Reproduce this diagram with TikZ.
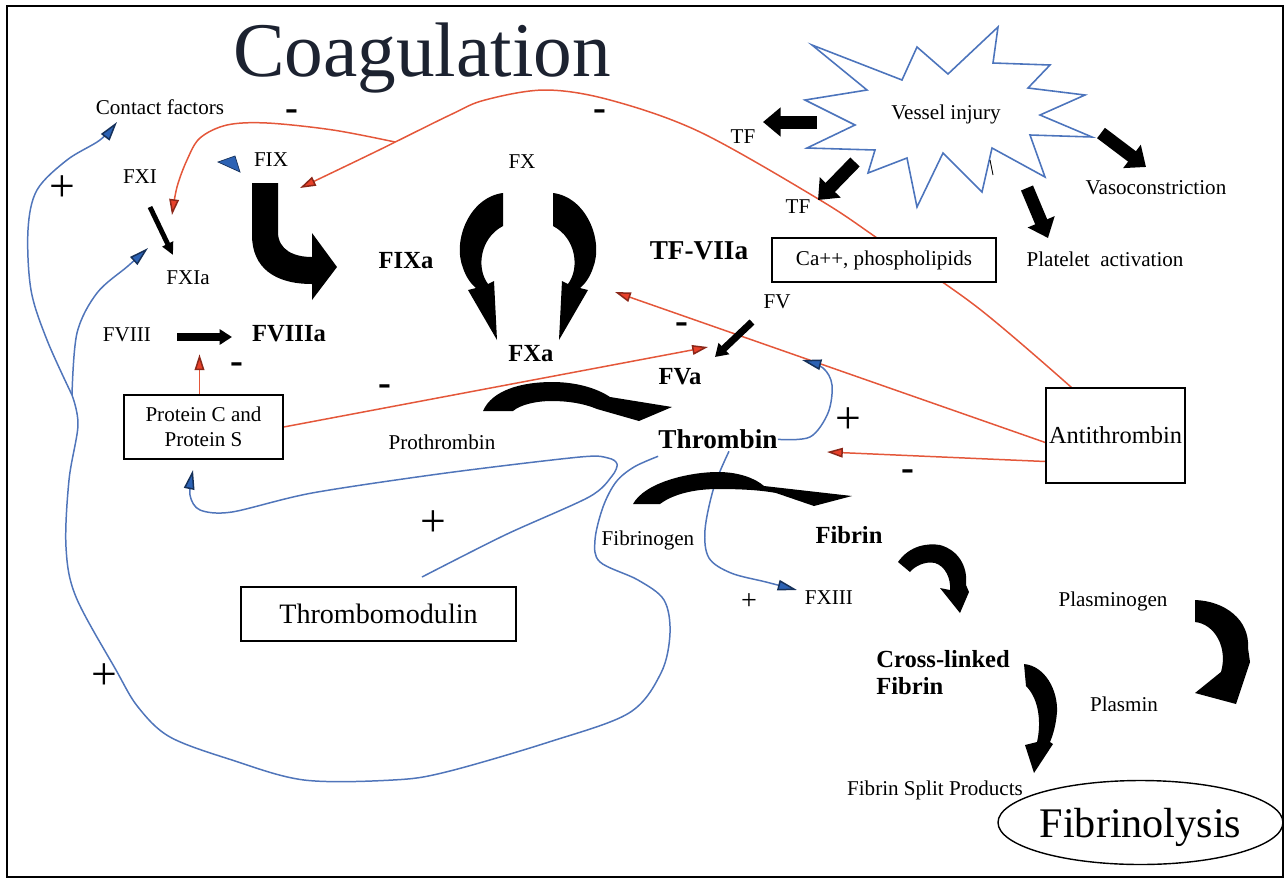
\documentclass[tikz,border=0pt]{standalone}
\usepackage{fontspec}
\setmainfont{Liberation Serif}
\usepackage{tikz}
\usetikzlibrary{arrows.meta, shapes.geometric, calc, backgrounds}
\definecolor{TitleInk}{HTML}{1C2230}
\definecolor{LineBlue}{HTML}{5075BA}
\definecolor{HeadBlue}{HTML}{2C62B4}
\definecolor{StarBlue}{HTML}{4C74BC}
\definecolor{LineRed}{HTML}{E4573A}
\definecolor{HeadRed}{HTML}{E8412A}
\tikzset{
  lbl/.style={font=\fontsize{12}{14}\selectfont, anchor=mid, inner sep=0pt, yshift=-1.5pt},
  boldlbl/.style={font=\fontsize{14}{16}\selectfont\bfseries, anchor=mid, inner sep=0pt, yshift=-1.5pt},
  keylbl/.style={font=\fontsize{15.5}{18}\selectfont\bfseries, anchor=mid, inner sep=0pt, yshift=-1.5pt},
  minuslbl/.style={font=\fontsize{22}{22}\selectfont\bfseries, anchor=mid, inner sep=0pt, yshift=-3.5pt},
  pluslbl/.style={font=\fontsize{26}{26}\selectfont, anchor=mid, inner sep=0pt, yshift=-4.3pt},
  plainbox/.style={rectangle, draw=black, line width=0.8pt, fill=white, inner sep=0pt, align=center, font=\fontsize{12}{14.2}\selectfont},
  fatshape/.style={fill=black},
  fatarrow/.style={line width=7.4pt, -{Triangle[length=10pt, width=16pt]}},
  midarrow/.style={line width=4pt, -{Triangle[length=7pt, width=8.5pt]}},
  slimarrow/.style={line width=2.8pt, -{Triangle[length=7pt, width=6.5pt]}},
  redline/.style={draw=LineRed, line width=0.85pt, -{Triangle[length=9pt, width=5.5pt, fill=HeadRed, color=HeadRed!60!black]}},
  blueline/.style={draw=LineBlue, line width=0.85pt},
  bluearrow/.style={blueline, -{Triangle[length=11pt, width=6pt, fill=HeadBlue, color=HeadBlue!50!black]}}
}
\begin{document}
\begin{tikzpicture}[x=0.02cm, y=-0.02cm]
  \useasboundingbox (0,0) rectangle (1286,880);
  \draw[line width=1pt] (7,6) rectangle (1283,877);

  % Title
  \node[font=\fontsize{44}{48}\selectfont, text=TitleInk, anchor=base, inner sep=0pt] (title) at (422,76) {Coagulation};

  % Factors
  \node[lbl] (contact) at (160,108) {Contact factors};
  \node[lbl] (fxi) at (140,177) {FXI};
  \node[lbl] (fix) at (271,160) {FIX};
  \node[lbl] (fxia) at (188,278) {FXIa};
  \node[boldlbl] (fixa) at (406,262) {FIXa};
  \node[lbl] (fx) at (522,162) {FX};
  \node[boldlbl] (fxa) at (531,355) {FXa};
  \node[keylbl] (tfviia) at (699,253) {TF-VIIa};
  \node[lbl] (fviii) at (127,335) {FVIII};
  \node[boldlbl] (fviiia) at (289,335) {FVIIIa};
  \node[lbl] (fv) at (777,302) {FV};
  \node[boldlbl] (fva) at (680,378) {FVa};
  \node[lbl] (prothrombin) at (442,443) {Prothrombin};
  \node[keylbl] (thrombin) at (718,442) {Thrombin};
  \node[lbl] (fibrinogen) at (648,539) {Fibrinogen};
  \node[boldlbl] (fibrin) at (849,537) {Fibrin};
  \node[lbl] (fxiii) at (829,598) {FXIII};
  \node[boldlbl, align=left, anchor=north west, yshift=0pt, font=\fontsize{14}{15.4}\selectfont\bfseries] (crosslinked) at (876,647) {Cross-linked\\Fibrin};
  \node[lbl] (plasminogen) at (1113,600) {Plasminogen};
  \node[lbl] (plasmin) at (1124,705) {Plasmin};
  \node[lbl] (fsp) at (935,789) {Fibrin Split Products};
  \node[ellipse, draw, line width=0.8pt, minimum width=5.08cm, minimum height=1.68cm, inner sep=0pt, text depth=0pt, font=\fontsize{24}{26}\selectfont] (fibrinolysis) at (1140.5,822.5) {Fibrinolysis};

  % Vessel injury
  \draw[StarBlue, line width=0.9pt, line join=miter] (812,45) -- (902,80) -- (917,47) -- (948,74) -- (998,27) -- (993,63) -- (1050,65) -- (1028,88) -- (1085,95) -- (1040,115) -- (1092,137) -- (1030,135) -- (1045,177) -- (992,148) -- (982,192) -- (943,153) -- (917,207) -- (907,158) -- (868,173) -- (875,150) -- (807,148) -- (855,125) -- (805,100) -- (867,90) -- cycle;
  \draw[line width=0.5pt] (990,160) -- (993,175);
  \node[lbl] (vessel) at (946,113) {Vessel injury};
  \node[lbl] (tfleft) at (743,137) {TF};
  \node[lbl] (tflow) at (798,207) {TF};
  \node[lbl] (vaso) at (1156,188) {Vasoconstriction};
  \node[lbl] (platelet) at (1105,260) {Platelet\ \ activation};

  % Boxes
  \node[plainbox, minimum width=3.18cm, minimum height=1.28cm] (proteinc) at (203.5,427) {Protein C and\\Protein S};
  \node[plainbox, minimum width=4.48cm, minimum height=0.88cm] (capl) at (884,260) {Ca++, phospholipids};
  \node[plainbox, minimum width=5.5cm, minimum height=1.08cm, font=\fontsize{16}{18}\selectfont] (thrombomodulin) at (378.5,614) {Thrombomodulin};
  \node[plainbox, minimum width=2.78cm, minimum height=1.9cm, font=\fontsize{13.9}{16}\selectfont] (antithrombin) at (1115.5,435.5) {Antithrombin};

  % Signs
  \node[minuslbl] at (292,110) {-};
  \node[minuslbl] at (600,110) {-};
  \node[minuslbl] at (237,363) {-};
  \node[minuslbl] at (385,385) {-};
  \node[minuslbl] at (682,323) {-};
  \node[minuslbl] at (908,470) {-};
  \node[pluslbl] at (62,190) {+};
  \node[pluslbl] at (104,678) {+};
  \node[pluslbl] at (433,525) {+};
  \node[pluslbl] at (848,422) {+};
  \node[lbl, font=\fontsize{16}{16}\selectfont, yshift=-1.5pt] at (749,600) {+};

  % Hit points
  \coordinate (split) at (72,395);
  \coordinate (contacthit) at (117,122);
  \coordinate (fxiahit) at (148,248);
  \coordinate (fvahit) at (802,360);
  \coordinate (fxiiihit) at (797,590);
  \coordinate (pchit) at (193,470);
  \coordinate (tmout) at (422,577);
  \coordinate (fixhit) at (300,188);
  \coordinate (fork) at (395,142);
  \coordinate (fxihit) at (172,215);
  \coordinate (fxahit) at (615,292);
  \coordinate (thrombinhit) at (827,452);
  \coordinate (fvhit) at (708,347);

  % Big arrows
  \fill[fatshape] (252,183) -- (252,235) .. controls (252,268) and (275,284) .. (312,284) -- (312,300) -- (337,267) -- (312,233) -- (312,257) .. controls (294,257) and (278,250) .. (278,232) -- (278,183) -- cycle;
  \fill[fatshape] (503,193) .. controls (470,197) and (452,240) .. (463,268) .. controls (466,277) and (471,284) .. (476,288) -- (468,290) -- (497,340) -- (494,281) -- (488,284) .. controls (476,268) and (480,238) .. (503,226) -- cycle;
  \fill[fatshape] (553,193) .. controls (586,197) and (604,240) .. (593,268) .. controls (590,277) and (585,284) .. (580,288) -- (588,290) -- (559,340) -- (562,281) -- (568,284) .. controls (580,268) and (576,238) .. (553,226) -- cycle;
  \fill[fatshape] (483,411) .. controls (492,390) and (522,382) .. (552,382) .. controls (578,382) and (598,389) .. (610,397) -- (672,407) -- (639,421) -- (597,409) .. controls (583,403) and (566,401) .. (552,401) .. controls (535,401) and (520,405) .. (513,411) -- cycle;
  \fill[fatshape] (633,504) .. controls (645,482) and (690,472) .. (718,472) .. controls (740,472) and (756,479) .. (764,486) -- (852,496) -- (814,506) -- (776,493) .. controls (760,490) and (740,489) .. (718,489) .. controls (692,489) and (672,495) .. (660,504) -- cycle;
  \fill[fatshape] (898,562) .. controls (910,545) and (928,543) .. (940,545) .. controls (958,550) and (968,566) .. (966,585) -- (969,592) -- (960,613) -- (940,588) -- (950,590) .. controls (951,578) and (945,566) .. (935,563) .. controls (925,561) and (915,566) .. (910,572) -- cycle;
  \fill[fatshape] (1024,664) .. controls (1045,666) and (1058,690) .. (1057,712) .. controls (1056,725) and (1053,735) .. (1050,742) -- (1053,744) -- (1034,773) -- (1025,745) -- (1037,742) .. controls (1041,725) and (1040,700) .. (1026,686) -- cycle;
  \fill[fatshape] (1195,600) .. controls (1225,601) and (1250,620) .. (1248,648) -- (1250,662) -- (1236,704) -- (1195,693) -- (1221,672) .. controls (1228,648) and (1215,624) .. (1195,622) -- cycle;

  % Small black arrows
  \coordinate (fxiout) at (150,207);
  \coordinate (fxiain) at (173,255);
  \coordinate (fviiiout) at (177,337);
  \coordinate (fviiiain) at (232,337);
  \coordinate (fvout) at (752,322);
  \coordinate (fvain) at (715,357);
  \draw[slimarrow] (fxiout) -- (fxiain);
  \draw[midarrow] (fviiiout) -- (fviiiain);
  \draw[midarrow] (fvout) -- (fvain);
  \draw[fatarrow] (817,122) coordinate (vtf1) -- (763,122) coordinate (tf1in);
  \draw[fatarrow] (855,162) coordinate (vtf2) -- (818,200) coordinate (tf2in);
  \draw[fatarrow] (1101,133) coordinate (vvaso) -- (1146,167) coordinate (vasoin);
  \draw[fatarrow] (1027,188) coordinate (vplat) -- (1048,238) coordinate (platin);

  \begin{scope}[on background layer]
    % Inhibition (red)
    \draw[redline] plot[smooth, tension=0.55] coordinates {($(antithrombin.north west)+(26,0)$) (977,307) (880,240) (820,200) (700,132) (610,100) (545,90) (485,100) (450,115) (375,152) (fixhit)};
    \draw[redline] plot[smooth, tension=0.55] coordinates {(fork) (333,130) (267,123) (227,125) (200,138) (187,160) (177,187) (fxihit)};
    \draw[redline] ($(antithrombin.west)+(0,7)$) -- (fxahit);
    \draw[redline] ($(antithrombin.west)+(0,26)$) -- (thrombinhit);
    \draw[redline] (proteinc.east) -- (fvhit);
    \draw[redline] ($(proteinc.north)+(-4,0)$) -- ++(0,-40);

    % Feedback (blue)
    \draw[blueline] plot[smooth, tension=0.55] coordinates {($(thrombin.south west)+(0,7)$) (634,467) (616,482) (603,507) (595,540) (600,562) (638,580) (664,600) (670,633) (661,673) (629,713) (549,742) (446,772) (393,780) (304,780) (232,760) (170,737) (138,707) (116,670) (76,597) (66,547) (69,480) (78,425) (split)};
    \draw[bluearrow] plot[smooth, tension=0.55] coordinates {(split) (47,340) (31,290) (28,230) (37,190) (67,160) (100,140) (contacthit)};
    \draw[bluearrow] plot[smooth, tension=0.55] coordinates {(split) (77,333) (97,293) (128,266) (fxiahit)};
    \draw[bluearrow] plot[smooth, tension=0.5] coordinates {(tmout) (505,535) (589,497) (612,476) (617,464) (608,458) (580,457) (446,473) (312,493) (232,512) (200,510) (190,495) (pchit)};
    \draw[bluearrow] plot[smooth, tension=0.55] coordinates {(thrombin.east) (810,437) (828,413) (832,385) (823,368) (fvahit)};
    \draw[bluearrow] plot[smooth, tension=0.55] coordinates {($(thrombin.south)+(11,2)$) (714,487) (705,530) (709,558) (731,573) (766,582) (fxiiihit)};
  \end{scope}

  % Lone blue tip at FIX
  \filldraw[fill=HeadBlue, draw=HeadBlue!50!black, line width=0.4pt] (218,162) -- (235,156) -- (240,172) -- cycle;
\end{tikzpicture}
\end{document}
